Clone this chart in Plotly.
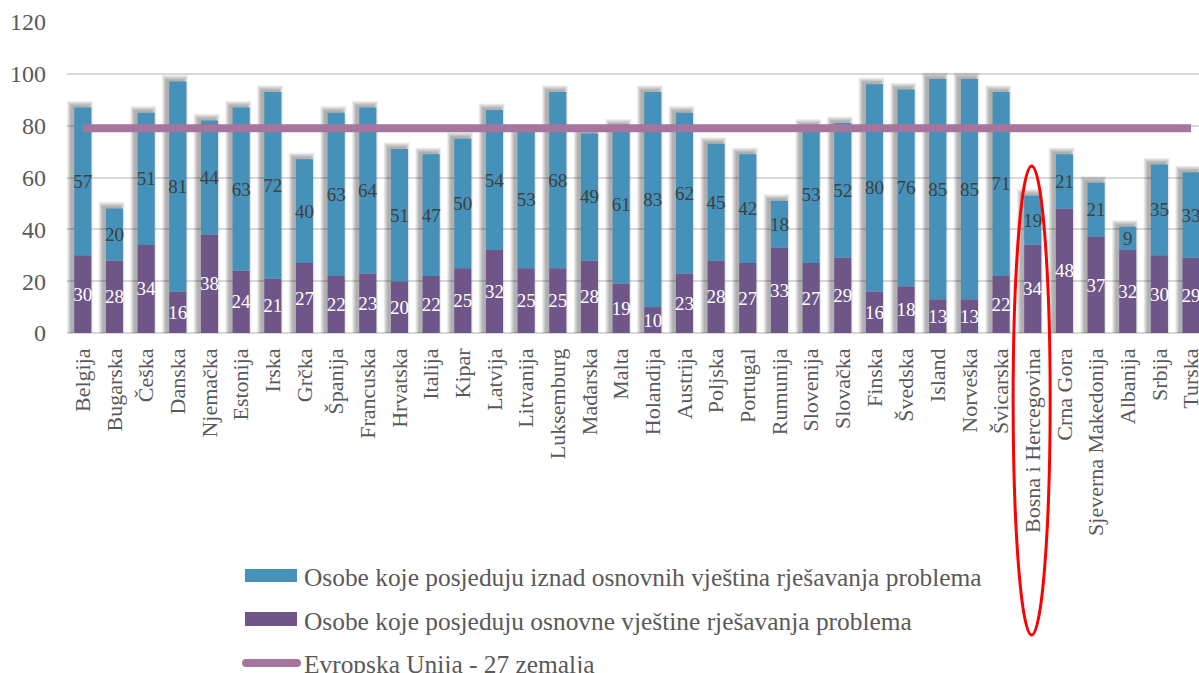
import plotly.graph_objects as go

# Countries shown on the category axis
countries = [
    "Belgija", "Bugarska", "Češka", "Danska", "Njemačka", "Estonija", "Irska",
    "Grčka", "Španija", "Francuska", "Hrvatska", "Italija", "Kipar", "Latvija",
    "Litvanija", "Luksemburg", "Mađarska", "Malta", "Holandija", "Austrija",
    "Poljska", "Portugal", "Rumunija", "Slovenija", "Slovačka", "Finska",
    "Švedska", "Island", "Norveška", "Švicarska", "Bosna i Hercegovina",
    "Crna Gora", "Sjeverna Makedonija", "Albanija", "Srbija", "Turska",
]

# Share of people with basic problem-solving skills (%)
basic = [30, 28, 34, 16, 38, 24, 21, 27, 22, 23, 20, 22, 25, 32, 25, 25, 28, 19,
         10, 23, 28, 27, 33, 27, 29, 16, 18, 13, 13, 22, 34, 48, 37, 32, 30, 29]

# Share of people with above-basic problem-solving skills (%)
above = [57, 20, 51, 81, 44, 63, 72, 40, 63, 64, 51, 47, 50, 54, 53, 68, 49, 61,
         83, 62, 45, 42, 18, 53, 52, 80, 76, 85, 85, 71, 19, 21, 21, 9, 35, 33]

# EU-27 reference level (%)
eu27 = 79

y_ticks = [0, 20, 40, 60, 80, 100, 120]

highlight = "Bosna i Hercegovina"

legend_labels = [
    "Osobe koje posjeduju iznad osnovnih vještina rješavanja problema",
    "Osobe koje posjeduju osnovne vještine rješavanja problema",
    "Evropska Unija - 27 zemalja",
]

BLUE = "#4691BA"
PURPLE = "#6F5688"
MAUVE = "#A5759E"
TEXT = "#595959"
FONT = "Liberation Serif"

BAR_W = 0.54
totals = [b + a for b, a in zip(basic, above)]

fig = go.Figure()

# soft drop shadow behind each column, cast up and to the left
# (many faint layers of growing size give a blurred edge)
for k in range(1, 9):
    w = BAR_W + 0.036 * k
    fig.add_trace(go.Bar(
        x=countries,
        y=[t + 0.35 * k + 0.6 for t in totals],
        base=-0.1 * k,
        width=w,
        offset=-w / 2 - 0.09,
        marker=dict(color="rgba(0,0,0,0.042)", line=dict(width=0)),
        hoverinfo="skip",
        showlegend=False,
    ))

fig.add_trace(go.Bar(
    x=countries, y=basic, width=BAR_W,
    name=legend_labels[1],
    marker=dict(color=PURPLE, line=dict(width=0)),
    text=basic, textposition="inside", insidetextanchor="middle",
    textangle=0, constraintext="none",
    textfont=dict(family=FONT, size=19, color="white"),
    showlegend=False,
))

fig.add_trace(go.Bar(
    x=countries, y=above, base=basic, width=BAR_W,
    name=legend_labels[0],
    marker=dict(color=BLUE, line=dict(width=0)),
    text=above, textposition="inside", insidetextanchor="middle",
    textangle=0, constraintext="none",
    textfont=dict(family=FONT, size=19, color="#404040"),
    showlegend=False,
))

fig.add_trace(go.Scatter(
    x=countries, y=[eu27] * len(countries),
    mode="lines", name=legend_labels[2],
    line=dict(color=MAUVE, width=8),
    hoverinfo="skip", showlegend=False,
))

# plot area geometry in pixels (used to place the hand-drawn legend)
W, H = 1199, 673
L, R, T, B = 67, 0, 22, 340
PW, PH = W - L - R, H - T - B


def px(x):
    return (x - L) / PW


def py(y):
    return (H - B - y) / PH


shapes = []
annotations = []

# legend swatches
shapes.append(dict(type="rect", xref="paper", yref="paper",
                   x0=px(245), x1=px(297), y0=py(569), y1=py(582),
                   fillcolor=BLUE, line=dict(width=0)))
shapes.append(dict(type="rect", xref="paper", yref="paper",
                   x0=px(245), x1=px(297), y0=py(612), y1=py(626),
                   fillcolor=PURPLE, line=dict(width=0)))
shapes.append(dict(type="line", xref="paper", yref="paper",
                   x0=px(246), x1=px(297), y0=py(663), y1=py(663),
                   line=dict(color=MAUVE, width=8)))
for cx in (246, 297):
    shapes.append(dict(type="circle", xref="paper", yref="paper",
                       x0=px(cx - 4), x1=px(cx + 4), y0=py(667), y1=py(659),
                       fillcolor=MAUVE, line=dict(width=0)))

for label, cy in zip(legend_labels, (577, 620.5, 664)):
    annotations.append(dict(
        text=label, xref="paper", yref="paper", x=px(302), y=py(cy),
        xanchor="left", yanchor="middle", showarrow=False,
        font=dict(family=FONT, size=25.4, color=TEXT),
    ))

# red ellipse around the highlighted country
hi = countries.index(highlight)
shapes.append(dict(type="circle", xref="x", yref="paper",
                   x0=hi - 0.62, x1=hi + 0.55, y0=py(635), y1=py(166),
                   line=dict(color="#FF0000", width=3), layer="above"))

fig.update_layout(
    width=W, height=H,
    margin=dict(l=L, r=R, t=T, b=B, autoexpand=False),
    barmode="overlay",
    plot_bgcolor="white", paper_bgcolor="white",
    font=dict(family=FONT, color=TEXT),
    showlegend=False,
    shapes=shapes,
    annotations=annotations,
    xaxis=dict(
        type="category", range=[-0.5, 35.25],
        tickangle=-90, tickfont=dict(family=FONT, size=22, color=TEXT),
        showgrid=False, showline=False, ticks="", ticklabelstandoff=10,
    ),
    yaxis=dict(
        range=[0, 120], tickvals=y_ticks,
        tickfont=dict(family=FONT, size=24, color=TEXT),
        showgrid=True, gridcolor="#D9D9D9", gridwidth=1.5,
        zeroline=True, zerolinecolor="#D9D9D9", zerolinewidth=1.5,
        showline=False, ticks="", ticklabelstandoff=20,
    ),
)

fig.write_html("out.html")
